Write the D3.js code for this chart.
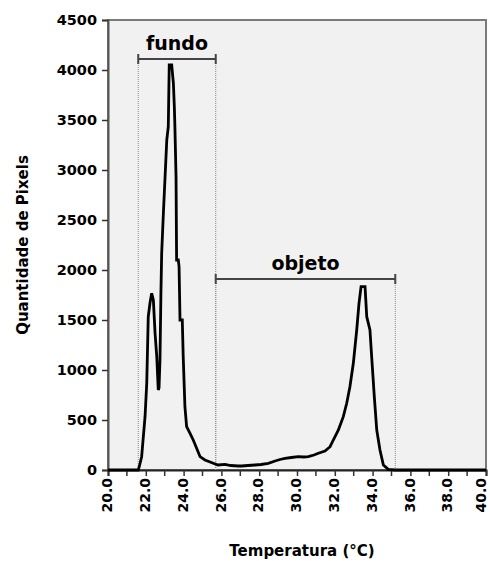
<!DOCTYPE html>
<html>
<head>
<meta charset="utf-8">
<script src="https://cdn.jsdelivr.net/npm/d3@7"></script>
<style>
  html, body { margin: 0; padding: 0; background: #ffffff; }
  svg { display: block; }
  text { font-family: "DejaVu Sans", Verdana, sans-serif; font-weight: bold; fill: #000; }
</style>
</head>
<body>
<svg id="chart" width="490" height="561"></svg>
<script>
// Histogram of pixel temperatures (°C) and pixel counts
const temperatures = [20.0, 21.6, 21.65, 21.78, 21.87, 21.96, 22.05, 22.13, 22.22, 22.31, 22.40, 22.49,
  22.58, 22.66, 22.70, 22.75, 22.80, 22.84, 22.93, 23.02, 23.11, 23.19, 23.24, 23.37, 23.46, 23.51,
  23.54, 23.60, 23.63, 23.72, 23.76, 23.81, 23.93, 23.98, 24.07, 24.16, 24.34, 24.51, 24.69, 24.87,
  25.13, 25.57, 25.82, 26.19, 26.50, 26.88, 27.07, 27.40, 27.78, 28.10, 28.48, 28.84, 29.10, 29.37,
  29.70, 30.07, 30.35, 30.60, 30.90, 31.13, 31.48, 31.75, 31.92, 32.19, 32.45, 32.63, 32.80, 32.98,
  33.16, 33.28, 33.39, 33.60, 33.69, 33.86, 33.95, 34.09, 34.22, 34.39, 34.57, 34.83, 35.19, 40.0];
const pixelCounts = [0, 0, 30, 133, 333, 533, 867, 1533, 1667, 1767, 1700, 1367,
  1133, 800, 820, 1100, 1767, 2167, 2567, 2933, 3300, 3433, 4050, 4050, 3867, 3633,
  3433, 2933, 2100, 2100, 2033, 1500, 1500, 1133, 633, 433, 367, 300, 217, 133,
  100, 67, 50, 57, 45, 40, 40, 45, 50, 55, 67, 90, 105, 117,
  125, 133, 130, 133, 150, 167, 190, 233, 300, 400, 533, 667, 833, 1067,
  1400, 1667, 1833, 1833, 1533, 1400, 1133, 733, 400, 200, 50, 7, 0, 0];

// Axis ticks
const yTicks = [0, 500, 1000, 1500, 2000, 2500, 3000, 3500, 4000, 4500];
const xMajorTicks = [20, 22, 24, 26, 28, 30, 32, 34, 36, 38, 40];
const xMinorTicks = [21, 23, 25, 27, 29, 31, 33, 35, 37, 39];
const xTickLabels = ["20.0", "22.0", "24.0", "26.0", "28.0", "30.0", "32.0", "34.0", "36.0", "38.0", "40.0"];

// Annotated temperature ranges
const regionNames = ["fundo", "objeto"];
const regionStart = [21.6, 25.7];
const regionEnd = [25.7, 35.2];
const regionLevel = [4110, 1910];

const yTitle = "Quantidade de Pixels";
const xTitle = "Temperatura (°C)";

const width = 490;
const svg = d3.select("#chart");
const plot = { left: 108, right: 486, top: 20, bottom: 470 };
const fontFamily = "'DejaVu Sans', Verdana, sans-serif";

const x = d3.scaleLinear().domain([20, 40]).range([plot.left, plot.right]);
const y = d3.scaleLinear().domain([0, 4500]).range([plot.bottom, plot.top]);

// plot area background and frame
svg.append("rect")
  .attr("x", plot.left).attr("y", plot.top)
  .attr("width", plot.right - plot.left).attr("height", plot.bottom - plot.top)
  .attr("fill", "#f1f1f1")
  .attr("stroke", "#7a7a7a").attr("stroke-width", 2);

// y axis
const yAxis = svg.append("g")
  .attr("transform", `translate(${plot.left},0)`)
  .call(d3.axisLeft(y).tickValues(yTicks).tickSize(6).tickPadding(5).tickFormat(d3.format("d")));
yAxis.select(".domain").attr("stroke", "#555").attr("stroke-width", 2);
yAxis.selectAll(".tick line").attr("stroke", "#333").attr("stroke-width", 1.5);
yAxis.selectAll(".tick text")
  .style("font-size", "14.5px")
  .style("font-family", fontFamily)
  .style("font-weight", "bold");

// x axis: major ticks with labels, minor ticks without
const xAxis = svg.append("g")
  .attr("transform", `translate(0,${plot.bottom})`)
  .call(d3.axisBottom(x).tickValues(xMajorTicks).tickSize(6).tickPadding(0)
    .tickFormat((d, i) => xTickLabels[i]));
xAxis.select(".domain").attr("stroke", "#222").attr("stroke-width", 2);
xAxis.selectAll(".tick line").attr("stroke", "#333").attr("stroke-width", 1.5);
xAxis.selectAll(".tick text")
  .attr("transform", "rotate(-90)")
  .attr("text-anchor", "end")
  .attr("x", -8).attr("y", 0).attr("dy", "0.27em")
  .style("font-size", "14px")
  .style("font-family", fontFamily)
  .style("font-weight", "bold");

// keep rotated labels inside the drawing width
xAxis.selectAll(".tick text").each(function () {
  const box = this.getBoundingClientRect();
  const overflow = box.right - (width - 1);
  if (overflow > 0) {
    d3.select(this).attr("y", -overflow);
  }
});

svg.append("g")
  .selectAll("line")
  .data(xMinorTicks)
  .join("line")
  .attr("x1", d => x(d)).attr("x2", d => x(d))
  .attr("y1", plot.bottom).attr("y2", plot.bottom + 6)
  .attr("stroke", "#333").attr("stroke-width", 1.5);

// range brackets with dotted guides
const regions = regionNames.map((name, i) => ({
  name, start: regionStart[i], end: regionEnd[i], level: regionLevel[i]
}));

const guides = svg.append("g");
regions.forEach(r => {
  [r.start, r.end].forEach(t => {
    guides.append("line")
      .attr("x1", x(t)).attr("x2", x(t))
      .attr("y1", y(r.level)).attr("y2", plot.bottom)
      .attr("stroke", "#8a8a8a").attr("stroke-width", 1)
      .attr("stroke-dasharray", "1,1");
  });
  guides.append("line")
    .attr("x1", x(r.start)).attr("x2", x(r.end))
    .attr("y1", y(r.level)).attr("y2", y(r.level))
    .attr("stroke", "#444").attr("stroke-width", 2);
  [r.start, r.end].forEach(t => {
    guides.append("line")
      .attr("x1", x(t)).attr("x2", x(t))
      .attr("y1", y(r.level) - 5).attr("y2", y(r.level) + 5)
      .attr("stroke", "#444").attr("stroke-width", 2);
  });
  guides.append("text")
    .attr("x", x((r.start + r.end) / 2))
    .attr("y", y(r.level) - 9)
    .attr("text-anchor", "middle")
    .style("font-size", "19px")
    .text(r.name);
});

// histogram line
const points = temperatures.map((t, i) => [t, pixelCounts[i]]);
const line = d3.line().x(d => x(d[0])).y(d => y(d[1])).curve(d3.curveLinear);
svg.append("path")
  .datum(points)
  .attr("d", line)
  .attr("fill", "none")
  .attr("stroke", "#000")
  .attr("stroke-width", 2.8)
  .attr("stroke-linejoin", "miter");

// axis titles
svg.append("text")
  .attr("transform", `translate(28,${(plot.top + plot.bottom) / 2}) rotate(-90)`)
  .attr("text-anchor", "middle")
  .style("font-size", "15px")
  .text(yTitle);

svg.append("text")
  .attr("x", 302)
  .attr("y", 556)
  .attr("text-anchor", "middle")
  .style("font-size", "15px")
  .text(xTitle);
</script>
</body>
</html>
